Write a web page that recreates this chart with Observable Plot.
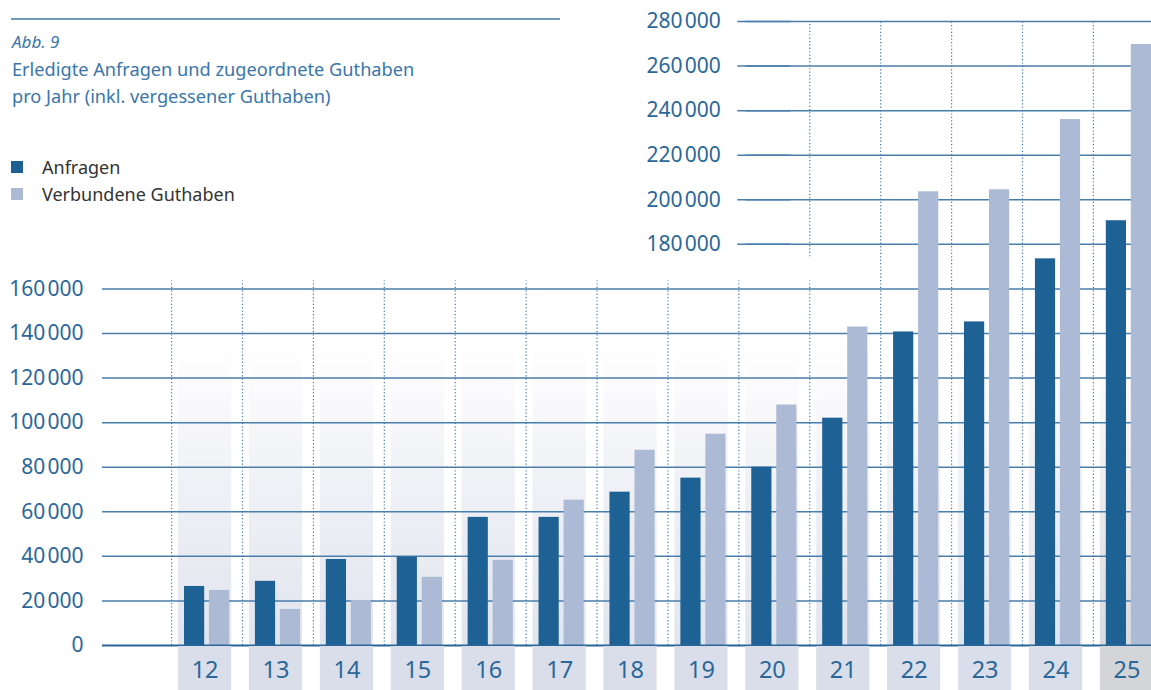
<!DOCTYPE html>
<html>
<head>
<meta charset="utf-8">
<script src="https://cdn.jsdelivr.net/npm/d3@7"></script>
<script src="https://cdn.jsdelivr.net/npm/@observablehq/plot@0.6"></script>
<style>
  body { margin: 0; background: #fff; font-family: "Noto Sans", sans-serif; }
  #wrap { position: relative; width: 1151px; height: 690px; overflow: hidden; }
  #chart { position: absolute; left: 0; top: 0; }
  .toprule { position: absolute; left: 11px; top: 18px; width: 549px; border-top: 2px solid #6f98bb; }
  .abb { position: absolute; left: 12px; top: 28px; font-style: italic; font-size: 17px; line-height: 27px; color: #3a76aa; }
  .title { position: absolute; left: 12px; top: 56px; font-size: 18.2px; line-height: 27px; color: #3a76aa; }
  .legend { position: absolute; left: 11px; top: 153px; font-size: 18px; color: #333; }
  .legend .item { display: flex; align-items: center; height: 27px; }
  .legend .sw { width: 12px; height: 12px; margin-right: 19px; display: inline-block; }
</style>
</head>
<body>
<div id="wrap">
  <div id="chart"></div>
  <div class="toprule"></div>
  <div class="abb">Abb. 9</div>
  <div class="title">Erledigte Anfragen und zugeordnete Guthaben<br>pro Jahr (inkl. vergessener Guthaben)</div>
  <div class="legend">
    <div class="item"><span class="sw" style="background:#1d6195"></span>Anfragen</div>
    <div class="item"><span class="sw" style="background:#adbad5"></span>Verbundene Guthaben</div>
  </div>
</div>
<script>
// ---- data ----
const years = ["12","13","14","15","16","17","18","19","20","21","22","23","24","25"];
const anfragen = [26500, 28800, 38600, 39700, 57500, 57500, 68800, 75100, 80000, 102000, 140700, 145200, 173500, 190600];
const guthaben = [24700, 16200, 20200, 30600, 38200, 65200, 87600, 94800, 107900, 142900, 203600, 204500, 236000, 269700];
const lowerTicks = [0, 20000, 40000, 60000, 80000, 100000, 120000, 140000, 160000];
const upperTicks = [180000, 200000, 220000, 240000, 260000, 280000];

// ---- build ----
const rows = years.map((year, i) => ({year, anfragen: anfragen[i], guthaben: guthaben[i]}));
const last = years[years.length - 1];
const upperStart = "20";
const fmt = d => d === 0 ? "0" : d3.format(",")(d).replace(/,/g, "\u200A");

const blue = "#2b6799";
const gridColor = "#4a7eab";
const sepStyle = {stroke: "#3c78ab", strokeWidth: 1.2, strokeDasharray: "1.2 2.2", dx: -33.5};

const colTop = 135000;
const lowSepTop = 163600;
const upSepBottom = 174400;
const lowSeps = years.filter(y => +y <= 21);
const fullSeps = years.filter(y => +y >= 22);

const chart = Plot.plot({
  width: 1151,
  height: 690,
  marginLeft: 102,
  marginRight: 0,
  marginTop: 21,
  marginBottom: 45,
  x: {type: "band", domain: years, range: [178, 1153], paddingInner: 0.25, paddingOuter: 0, round: false, axis: null},
  y: {domain: [0, 280000], range: [645, 21], axis: null},
  style: {fontFamily: "'Noto Sans', sans-serif", background: "transparent", overflow: "visible"},
  marks: [
    // column backgrounds
    Plot.barY(rows.filter(d => d.year !== last), {x: "year", y1: () => 0, y2: () => colTop, fill: "url(#gcol)"}),
    Plot.barY(rows.filter(d => d.year === last), {x: "year", y1: () => 0, y2: () => colTop, fill: "url(#glast)"}),
    // grid
    Plot.ruleY(lowerTicks.filter(d => d > 0), {stroke: gridColor, strokeWidth: 1.5}),
    Plot.ruleY(upperTicks, {x1: () => upperStart, x2: () => last, stroke: gridColor, strokeWidth: 1.5}),
    Plot.ruleY(upperTicks, {x1: () => upperStart, x2: () => upperStart, dx: -8, stroke: gridColor, strokeWidth: 1.5}),
    // dotted separators
    Plot.ruleX(lowSeps, {x: d => d, y1: () => 0, y2: () => lowSepTop, ...sepStyle}),
    Plot.ruleX(["21"], {x: d => d, y1: () => upSepBottom, y2: () => 280000, ...sepStyle}),
    Plot.ruleX(fullSeps, {x: d => d, y1: () => 0, y2: () => 280000, ...sepStyle}),
    // bars
    Plot.barY(rows, {x: "year", y: "anfragen", fill: "#1d6195", insetLeft: 6, insetRight: 27}),
    Plot.barY(rows, {x: "year", y: "guthaben", fill: "#adbad5", insetLeft: 31, insetRight: 2}),
    // baseline
    Plot.ruleY([0], {stroke: "#2a6698", strokeWidth: 2}),
    // label boxes
    Plot.barY(rows.filter(d => d.year !== last), {x: "year", y1: () => 0, y2: () => 0, insetTop: 1, insetBottom: -46, fill: "#d9deea"}),
    Plot.barY(rows.filter(d => d.year === last), {x: "year", y1: () => 0, y2: () => 0, insetTop: 1, insetBottom: -46, fill: "#d4d5d8"}),
    // x labels
    Plot.text(rows, {x: "year", y: () => 0, text: "year", dy: 25, fontSize: 23.5, fill: blue}),
    // y labels
    Plot.text(lowerTicks, {y: d => d, frameAnchor: "left", textAnchor: "end", dx: -19, text: fmt, fontSize: 21, fill: blue}),
    Plot.text(upperTicks, {x: () => upperStart, y: d => d, textAnchor: "end", dx: -51.6, text: fmt, fontSize: 21, fill: blue})
  ]
});

// gradients for column backgrounds
const svg = d3.select(chart);
const defs = svg.insert("defs", ":first-child");
const g1 = defs.append("linearGradient").attr("id", "gcol").attr("x1", 0).attr("y1", 0).attr("x2", 0).attr("y2", 1);
[[0, "#ffffff"], [0.15, "#fbfafc"], [0.5, "#eef0f5"], [1, "#e1e5ee"]].forEach(([o, c]) => g1.append("stop").attr("offset", o).attr("stop-color", c));
const g2 = defs.append("linearGradient").attr("id", "glast").attr("x1", 0).attr("y1", 0).attr("x2", 0).attr("y2", 1);
[[0, "#ffffff"], [0.15, "#fafafa"], [0.5, "#ececee"], [1, "#dadbde"]].forEach(([o, c]) => g2.append("stop").attr("offset", o).attr("stop-color", c));

document.getElementById("chart").appendChild(chart);
</script>
</body>
</html>
